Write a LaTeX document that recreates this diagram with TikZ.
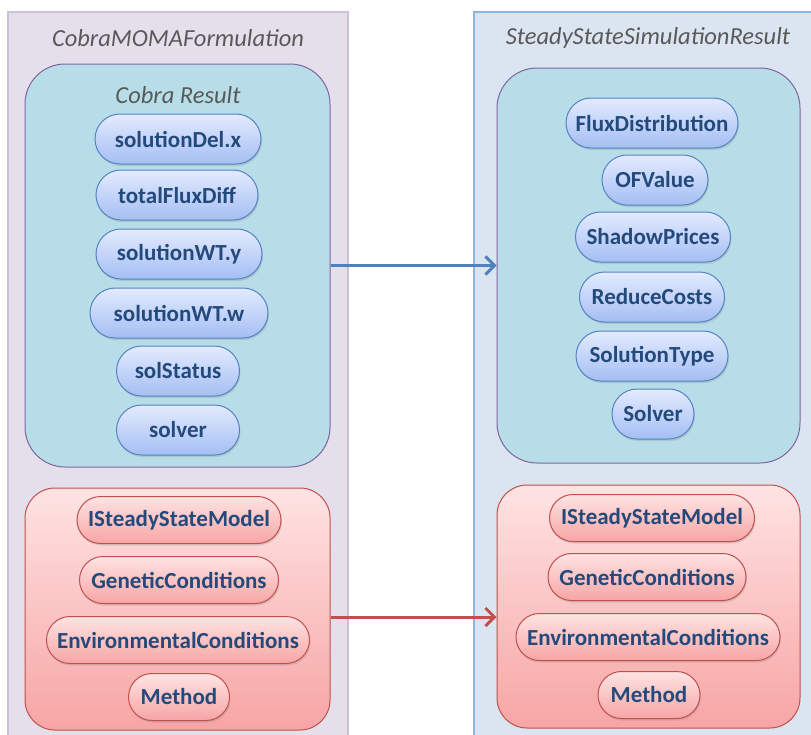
\documentclass[tikz,border=0pt]{standalone}
\usepackage{fontspec}
\setmainfont{Carlito}
\usetikzlibrary{arrows.meta,shadows}
\definecolor{lavfill}{HTML}{E5DFEC}
\definecolor{lavline}{HTML}{CCC0DA}
\definecolor{bluefill}{HTML}{DBE5F1}
\definecolor{blueline}{HTML}{8EB4E3}
\definecolor{tealfill}{HTML}{B7DEE8}
\definecolor{tealline}{HTML}{8064A2}
\definecolor{pilltop}{HTML}{E3EBFF}
\definecolor{pillbot}{HTML}{A4BEF3}
\definecolor{pillline}{HTML}{5582C2}
\definecolor{redtop}{HTML}{FFE3E3}
\definecolor{redbot}{HTML}{F7A5A5}
\definecolor{redline}{HTML}{C0504D}
\definecolor{txt}{HTML}{244A7C}
\definecolor{titletxt}{HTML}{595959}
\definecolor{arrblue}{HTML}{4F81BD}
\tikzset{
  outerbox/.style={draw=#1, line width=2pt},
  titletext/.style={font=\itshape\fontsize{24.5}{28}\selectfont, text=titletxt},
  tealbox/.style={draw=tealline, fill=tealfill, line width=1pt, rounded corners=40pt},
  redbox/.style={draw=redline, line width=1pt, rounded corners=30pt,
    top color=redtop, bottom color=redbot},
  pill/.style={draw=pillline, line width=1pt, rounded corners=25pt,
    top color=pilltop, bottom color=pillbot,
    minimum height=50pt, minimum width=#1, inner sep=0pt,
    font=\bfseries\fontsize{23}{27}\selectfont, text=txt,
    drop shadow={shadow xshift=1pt, shadow yshift=-2pt, opacity=0.25}},
  rpill/.style={pill=#1, draw=redline, top color=redtop, bottom color=redbot,
    minimum height=47pt, rounded corners=23.5pt},
  link/.style={line width=3pt, -{Straight Barb[length=9pt,width=18pt,line width=3pt]}},
}
\begin{document}
\begin{tikzpicture}[x=1pt,y=-1pt]
\useasboundingbox (0,0) rectangle (811,734);
\fill[white] (0,0) rectangle (811,734);

% outer class boxes
\draw[outerbox=lavline, fill=lavfill] (8,12) rectangle (348,745);
\draw[outerbox=blueline, fill=bluefill] (474,12) rectangle (825,745);
\node[titletext] (ltitle) at (178,38) {CobraMOMAFormulation};
\node[titletext] (rtitle) at (648,38) {SteadyStateSimulationResult};

% result containers
\node[tealbox, minimum width=305pt, minimum height=403pt] (lteal) at (177.5,265.5) {};
\node[tealbox, minimum width=303pt, minimum height=395pt] (rteal) at (648.5,265.5) {};
\node[titletext] (ctitle) at (178,95) {Cobra Result};

% condition containers
\node[redbox, minimum width=305pt, minimum height=242pt] (lred) at (177.5,609) {};
\node[redbox, minimum width=303pt, minimum height=243pt] (rred) at (648.5,606.5) {};

% left result fields
\node[pill=166pt] (a1) at (178,139) {solutionDel.x};
\node[pill=162pt] (a2) at (177,195) {totalFluxDiff};
\node[pill=166pt] (a3) at (179,254) {solutionWT.y};
\node[pill=178pt] (a4) at (179,313) {solutionWT.w};
\node[pill=123pt] (a5) at (178,371) {solStatus};
\node[pill=123pt] (a6) at (178,430) {solver};

% right result fields
\node[pill=172pt] (b1) at (652,123) {FluxDistribution};
\node[pill=106pt] (b2) at (655,180) {OFValue};
\node[pill=155pt] (b3) at (653,237) {ShadowPrices};
\node[pill=145pt] (b4) at (652,297) {ReduceCosts};
\node[pill=152pt] (b5) at (652,356) {SolutionType};
\node[pill=82pt] (b6) at (653,414) {Solver};

% left condition fields
\node[rpill=204pt] (c1) at (179,520) {ISteadyStateModel};
\node[rpill=199pt] (c2) at (179,580) {GeneticConditions};
\node[rpill=263pt] (c3) at (178,640) {EnvironmentalConditions};
\node[rpill=101pt] (c4) at (179,697) {Method};

% right condition fields
\node[rpill=205pt] (d1) at (652,518) {ISteadyStateModel};
\node[rpill=198pt] (d2) at (647,577) {GeneticConditions};
\node[rpill=264pt] (d3) at (648,637) {EnvironmentalConditions};
\node[rpill=102pt] (d4) at (649,695) {Method};

% mappings
\draw[link, arrblue] (lteal.east) -- (rteal.west);
\draw[link, redline] ([yshift=-8pt]lred.east) -- ([yshift=-8pt]lred.east -| rred.west);
\end{tikzpicture}
\end{document}
